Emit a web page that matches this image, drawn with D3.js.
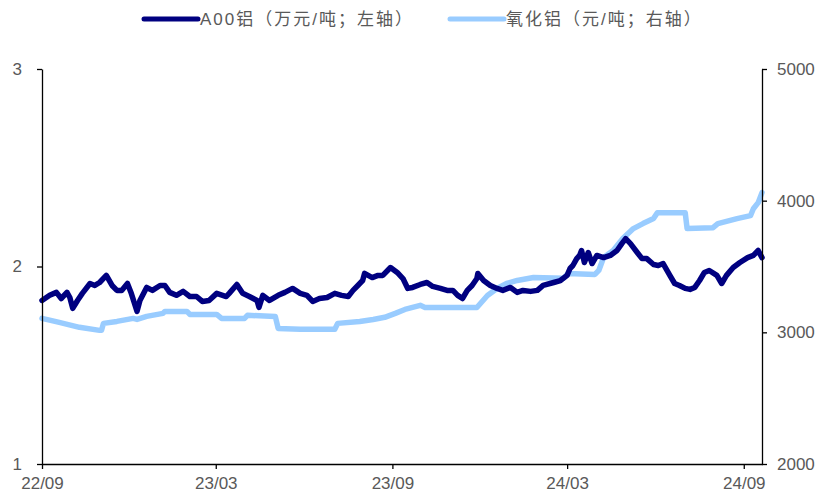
<!DOCTYPE html>
<html><head><meta charset="utf-8">
<script src="https://cdn.jsdelivr.net/npm/d3@7"></script>
<style>
html,body{margin:0;padding:0;background:#fff;}
svg{display:block;}
text{font-family:"Liberation Sans",Arial,"Noto Sans CJK SC",sans-serif;fill:#595959;}
</style></head>
<body>
<svg id="chart" width="822" height="494"></svg>
<script>
// A00 aluminium, 10k CNY/t (left axis)
const a00Dates = ["2022-09-01","2022-09-09","2022-09-16","2022-09-21","2022-09-27","2022-09-30","2022-10-03","2022-10-08","2022-10-13","2022-10-21","2022-10-26","2022-10-31","2022-11-07","2022-11-13","2022-11-18","2022-11-23","2022-11-29","2022-12-03","2022-12-09","2022-12-12","2022-12-19","2022-12-25","2023-01-02","2023-01-07","2023-01-12","2023-01-19","2023-01-26","2023-02-02","2023-02-09","2023-02-15","2023-02-22","2023-03-02","2023-03-12","2023-03-15","2023-03-23","2023-03-29","2023-04-05","2023-04-13","2023-04-15","2023-04-19","2023-04-26","2023-05-05","2023-05-12","2023-05-20","2023-05-28","2023-06-04","2023-06-10","2023-06-17","2023-06-25","2023-07-03","2023-07-10","2023-07-17","2023-07-22","2023-07-27","2023-08-01","2023-08-03","2023-08-11","2023-08-17","2023-08-22","2023-08-30","2023-09-06","2023-09-12","2023-09-17","2023-09-22","2023-09-30","2023-10-07","2023-10-13","2023-10-21","2023-10-28","2023-11-03","2023-11-08","2023-11-13","2023-11-18","2023-11-23","2023-11-28","2023-11-29","2023-12-05","2023-12-12","2023-12-19","2023-12-25","2024-01-02","2024-01-09","2024-01-15","2024-01-23","2024-01-30","2024-02-05","2024-02-16","2024-02-23","2024-03-01","2024-03-04","2024-03-07","2024-03-11","2024-03-14","2024-03-16","2024-03-19","2024-03-23","2024-03-27","2024-04-01","2024-04-08","2024-04-15","2024-04-22","2024-04-27","2024-05-01","2024-05-06","2024-05-13","2024-05-18","2024-05-23","2024-05-30","2024-06-04","2024-06-09","2024-06-16","2024-06-21","2024-06-26","2024-07-02","2024-07-07","2024-07-12","2024-07-17","2024-07-22","2024-07-27","2024-08-04","2024-08-09","2024-08-14","2024-08-21","2024-08-28","2024-09-05","2024-09-11","2024-09-16","2024-09-20"];
const a00Values = [1.828,1.854,1.869,1.838,1.869,1.843,1.788,1.828,1.864,1.914,1.904,1.919,1.955,1.904,1.879,1.879,1.914,1.864,1.773,1.828,1.894,1.879,1.904,1.904,1.869,1.854,1.874,1.848,1.848,1.823,1.828,1.864,1.848,1.864,1.909,1.864,1.848,1.828,1.793,1.854,1.828,1.854,1.869,1.889,1.864,1.854,1.823,1.838,1.843,1.864,1.854,1.848,1.879,1.904,1.929,1.965,1.944,1.955,1.955,1.995,1.970,1.939,1.889,1.894,1.909,1.919,1.899,1.889,1.879,1.879,1.854,1.838,1.879,1.904,1.939,1.965,1.929,1.904,1.889,1.879,1.894,1.869,1.879,1.874,1.879,1.904,1.919,1.929,1.955,1.990,2.005,2.040,2.056,2.081,2.020,2.071,2.015,2.056,2.045,2.056,2.081,2.116,2.141,2.116,2.071,2.040,2.040,2.010,2.005,2.015,1.955,1.914,1.904,1.889,1.884,1.894,1.929,1.970,1.980,1.955,1.914,1.955,1.995,2.020,2.045,2.056,2.081,2.045];

// Alumina, CNY/t (right axis)
const aluminaDates = ["2022-09-01","2022-09-19","2022-10-10","2022-10-31","2022-11-02","2022-11-04","2022-11-18","2022-12-05","2022-12-09","2022-12-19","2023-01-05","2023-01-07","2023-01-30","2023-02-02","2023-03-02","2023-03-07","2023-03-31","2023-04-03","2023-05-02","2023-05-05","2023-05-28","2023-07-03","2023-07-06","2023-07-29","2023-08-12","2023-08-24","2023-09-04","2023-09-14","2023-09-30","2023-10-05","2023-11-28","2023-12-09","2023-12-19","2023-12-29","2024-01-09","2024-01-26","2024-02-26","2024-03-02","2024-03-30","2024-04-03","2024-04-08","2024-04-18","2024-04-28","2024-05-09","2024-05-19","2024-05-30","2024-06-03","2024-07-02","2024-07-04","2024-07-31","2024-08-05","2024-08-25","2024-09-08","2024-09-11","2024-09-16","2024-09-20"];
const aluminaValues = [3106,3076,3038,3015,3015,3068,3083,3106,3098,3121,3144,3159,3159,3136,3136,3106,3106,3129,3121,3030,3023,3023,3068,3083,3098,3114,3144,3174,3205,3189,3189,3280,3333,3371,3394,3417,3410,3447,3440,3470,3568,3621,3712,3788,3826,3864,3909,3909,3788,3795,3826,3864,3886,3939,3985,4061];

const xTickDates = ["2022-09-01","2023-03-01","2023-09-01","2024-03-01","2024-09-01"];
const xTickLabels = ["22/09","23/03","23/09","24/03","24/09"];
const leftTicks = [1,2,3];
const rightTicks = [2000,3000,4000,5000];
const legendLabels = ["A00铝（万元/吨；左轴）","氧化铝（元/吨；右轴）"];

const parse = d3.timeParse("%Y-%m-%d");
const svg = d3.select("#chart");
const m = {left:42, right:762, top:69, bottom:464};
const allDates = a00Dates.concat(aluminaDates).map(parse);
const x = d3.scaleTime().domain(d3.extent(allDates)).range([m.left, m.right]);
const yL = d3.scaleLinear().domain([1,3]).range([m.bottom, m.top]);
const yR = d3.scaleLinear().domain([2000,5000]).range([m.bottom, m.top]);

const s1 = a00Dates.map((d,i)=>({d:parse(d), v:a00Values[i]}));
const s2 = aluminaDates.map((d,i)=>({d:parse(d), v:aluminaValues[i]}));

const axisColor = "#000";
// lines
svg.append("path").datum(s2)
  .attr("fill","none").attr("stroke","#99CCFF").attr("stroke-width",5.5)
  .attr("stroke-linejoin","round").attr("stroke-linecap","round")
  .attr("d", d3.line().x(p=>x(p.d)).y(p=>yR(p.v)));
svg.append("path").datum(s1)
  .attr("fill","none").attr("stroke","#000080").attr("stroke-width",5.5)
  .attr("stroke-linejoin","round").attr("stroke-linecap","round")
  .attr("d", d3.line().x(p=>x(p.d)).y(p=>yL(p.v)));

function styleAxis(g){
  g.selectAll(".domain").attr("stroke",axisColor).attr("stroke-width",1.3);
  g.selectAll(".tick line").attr("stroke",axisColor).attr("stroke-width",1.3);
  g.selectAll(".tick text").attr("fill","#595959")
    .style("font-family",'"Liberation Sans",Arial,sans-serif').style("font-size","17px");
}
const gx = svg.append("g").attr("transform",`translate(0,${m.bottom})`)
  .call(d3.axisBottom(x).tickValues(xTickDates.map(parse)).tickFormat((d,i)=>xTickLabels[i]).tickSize(5).tickSizeOuter(0).tickPadding(8));
styleAxis(gx);
const gl = svg.append("g").attr("transform",`translate(${m.left},0)`)
  .call(d3.axisLeft(yL).tickValues(leftTicks).tickFormat(d3.format("d")).tickSize(5).tickSizeOuter(0).tickPadding(15));
styleAxis(gl);
const gr = svg.append("g").attr("transform",`translate(${m.right},0)`)
  .call(d3.axisRight(yR).tickValues(rightTicks).tickFormat(d3.format("d")).tickSize(5).tickSizeOuter(0).tickPadding(10));
styleAxis(gr);

// legend
const legend = svg.append("g");
const legX = [144, 450];
const legColors = ["#000080","#99CCFF"];
legendLabels.forEach((t,i)=>{
  legend.append("line").attr("x1",legX[i]).attr("x2",legX[i]+54).attr("y1",19).attr("y2",19)
    .attr("stroke",legColors[i]).attr("stroke-width",5).attr("stroke-linecap","round");
  legend.append("text").attr("x",legX[i]+56).attr("y",25)
    .style("font-family",'"Liberation Sans","Noto Sans CJK SC",sans-serif').style("font-size","17px")
    .style("letter-spacing","2px")
    .attr("fill","#595959").text(t);
});
</script>
</body></html>
